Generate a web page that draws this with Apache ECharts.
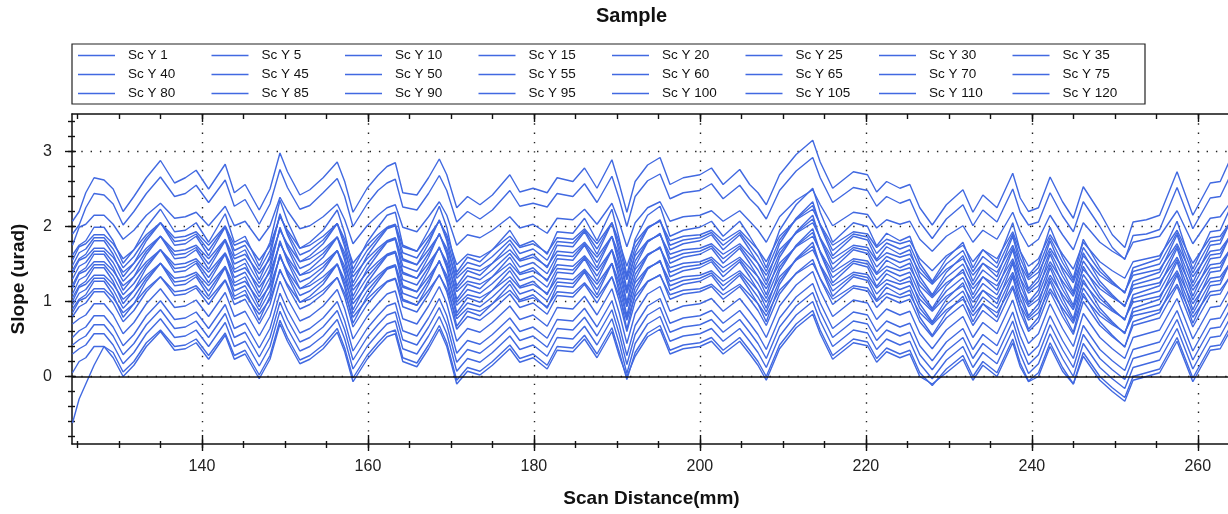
<!DOCTYPE html>
<html>
<head>
<meta charset="utf-8">
<script src="https://cdn.jsdelivr.net/npm/echarts@6/dist/echarts.min.js"></script>
<style>
  html, body { margin: 0; padding: 0; background: #ffffff; }
  #chart { width: 1228px; height: 514px; }
</style>
</head>
<body>
<div id="chart"></div>
<script>
// Scan positions (mm) shared by every profile
const scanX = [124.4, 125.2, 126, 127, 128.2, 129.3, 130.5, 131.8, 133.3, 135,
  136.7, 138, 139.3, 140.8, 142.8, 143.9, 145.2, 146.9, 148.2, 149.4,
  150.3, 151.8, 153, 154.6, 156.3, 157.2, 158.2, 159.9, 161.2, 162.3,
  163.3, 164.2, 165.9, 167.3, 168.6, 169.5, 170.7, 172, 173.5, 175,
  177.1, 178.3, 179.9, 181.6, 182.8, 184.7, 186.1, 187.6, 189.4, 190.3,
  191.2, 192.2, 193.7, 195.2, 196.4, 198, 200, 201.4, 202.8, 204.8,
  206, 207, 208, 209.6, 211.6, 213.6, 214.5, 216, 218.5, 220.2,
  221.3, 222.5, 224.1, 225.3, 226.5, 228, 229.7, 231.7, 232.9, 234.1,
  235.8, 237.7, 238.6, 239.6, 240.8, 242.2, 243.7, 245, 246.2, 248.2,
  249.7, 251.2, 252.2, 253.8, 255.4, 257.5, 259.4, 261.5, 262.7, 264];

// Slope profiles (urad), one per scan line
const scY1 = [2.07, 2.20, 2.45, 2.65, 2.62, 2.50, 2.20, 2.40, 2.65, 2.88,
  2.58, 2.65, 2.75, 2.50, 2.83, 2.45, 2.56, 2.22, 2.50, 2.98,
  2.73, 2.42, 2.49, 2.65, 2.86, 2.60, 2.19, 2.51, 2.68, 2.80,
  2.85, 2.45, 2.42, 2.65, 2.90, 2.69, 2.25, 2.40, 2.29, 2.42,
  2.69, 2.46, 2.51, 2.45, 2.65, 2.60, 2.78, 2.51, 2.89, 2.56,
  2.19, 2.60, 2.82, 2.92, 2.56, 2.65, 2.69, 2.78, 2.56, 2.76,
  2.56, 2.45, 2.29, 2.69, 2.96, 3.15, 2.86, 2.51, 2.73, 2.69,
  2.46, 2.60, 2.51, 2.56, 2.25, 2.02, 2.29, 2.49, 2.19, 2.42,
  2.25, 2.71, 2.38, 2.20, 2.25, 2.66, 2.33, 2.11, 2.53, 2.19,
  1.89, 1.72, 2.06, 2.09, 2.15, 2.73, 2.15, 2.58, 2.60, 2.92];
const scY5 = [1.90, 2.02, 2.25, 2.44, 2.42, 2.30, 2.02, 2.20, 2.44, 2.66,
  2.40, 2.44, 2.55, 2.32, 2.62, 2.27, 2.36, 2.03, 2.30, 2.76,
  2.52, 2.23, 2.28, 2.45, 2.64, 2.40, 2.00, 2.30, 2.48, 2.58,
  2.63, 2.26, 2.22, 2.44, 2.68, 2.48, 2.06, 2.20, 2.10, 2.22,
  2.48, 2.27, 2.31, 2.26, 2.44, 2.40, 2.57, 2.32, 2.67, 2.36,
  2.00, 2.40, 2.61, 2.70, 2.37, 2.45, 2.48, 2.57, 2.37, 2.55,
  2.37, 2.26, 2.10, 2.48, 2.74, 2.92, 2.65, 2.32, 2.52, 2.48,
  2.27, 2.40, 2.31, 2.36, 2.06, 1.84, 2.10, 2.29, 2.01, 2.22,
  2.06, 2.50, 2.19, 2.02, 2.06, 2.45, 2.14, 1.93, 2.33, 2.00,
  1.72, 1.56, 1.88, 1.90, 1.96, 2.52, 1.97, 2.38, 2.40, 2.70];
const scY10 = [1.75, 1.99, 2.03, 2.15, 2.15, 2.03, 1.83, 1.95, 2.15, 2.31,
  2.11, 2.13, 2.19, 2.01, 2.27, 2.01, 2.07, 1.81, 2.01, 2.39,
  2.21, 1.97, 2.01, 2.13, 2.30, 2.09, 1.77, 2.01, 2.15, 2.25,
  2.29, 1.99, 1.93, 2.13, 2.33, 2.15, 1.75, 1.89, 1.85, 1.95,
  2.13, 1.98, 2.03, 1.91, 2.11, 2.09, 2.23, 2.03, 2.31, 2.05,
  1.73, 2.05, 2.25, 2.33, 2.07, 2.13, 2.15, 2.21, 2.07, 2.21,
  2.07, 1.95, 1.79, 2.13, 2.35, 2.49, 2.29, 2.01, 2.19, 2.16,
  1.98, 2.09, 2.03, 2.07, 1.83, 1.67, 1.87, 2.01, 1.79, 1.95,
  1.83, 2.19, 1.93, 1.73, 1.83, 2.15, 1.89, 1.69, 2.05, 1.79,
  1.67, 1.57, 1.79, 1.83, 1.87, 2.21, 1.77, 2.11, 2.13, 2.33];
const scY15 = [1.62, 1.75, 1.81, 1.99, 1.99, 1.81, 1.51, 1.69, 1.99, 2.23,
  1.93, 1.95, 2.05, 1.79, 2.17, 1.79, 1.87, 1.47, 1.79, 2.35,
  2.07, 1.71, 1.79, 1.95, 2.22, 1.91, 1.43, 1.79, 1.99, 2.15,
  2.19, 1.75, 1.67, 1.95, 2.27, 1.99, 1.39, 1.59, 1.53, 1.69,
  1.95, 1.74, 1.81, 1.63, 1.93, 1.91, 2.11, 1.81, 2.23, 1.83,
  1.35, 1.83, 2.15, 2.27, 1.87, 1.95, 1.99, 2.07, 1.87, 2.07,
  1.87, 1.69, 1.45, 1.95, 2.29, 2.51, 2.19, 1.79, 2.05, 2.00,
  1.74, 1.91, 1.81, 1.87, 1.51, 1.27, 1.57, 1.79, 1.45, 1.69,
  1.51, 2.05, 1.67, 1.35, 1.51, 1.99, 1.59, 1.31, 1.83, 1.45,
  1.27, 1.11, 1.45, 1.51, 1.57, 2.07, 1.43, 1.93, 1.95, 2.27];
const scY20 = [1.55, 1.73, 1.77, 1.89, 1.89, 1.77, 1.57, 1.69, 1.89, 2.05,
  1.85, 1.87, 1.93, 1.75, 2.01, 1.75, 1.81, 1.55, 1.75, 2.13,
  1.95, 1.71, 1.75, 1.87, 2.04, 1.83, 1.51, 1.75, 1.89, 1.99,
  2.03, 1.73, 1.67, 1.87, 2.07, 1.89, 1.49, 1.63, 1.59, 1.69,
  1.87, 1.72, 1.77, 1.65, 1.85, 1.83, 1.97, 1.77, 2.05, 1.79,
  1.47, 1.79, 1.99, 2.07, 1.81, 1.87, 1.89, 1.95, 1.81, 1.95,
  1.81, 1.69, 1.53, 1.87, 2.09, 2.23, 2.03, 1.75, 1.93, 1.90,
  1.72, 1.83, 1.77, 1.81, 1.57, 1.41, 1.61, 1.75, 1.53, 1.69,
  1.57, 1.93, 1.67, 1.47, 1.57, 1.89, 1.63, 1.43, 1.79, 1.53,
  1.41, 1.31, 1.53, 1.57, 1.61, 1.95, 1.51, 1.85, 1.87, 2.07];
const scY25 = [1.48, 1.65, 1.70, 1.85, 1.85, 1.70, 1.45, 1.60, 1.85, 2.05,
  1.80, 1.82, 1.90, 1.68, 2.00, 1.68, 1.75, 1.42, 1.68, 2.15,
  1.92, 1.62, 1.68, 1.82, 2.04, 1.78, 1.38, 1.68, 1.85, 1.98,
  2.02, 1.65, 1.58, 1.82, 2.08, 1.85, 1.35, 1.52, 1.47, 1.60,
  1.82, 1.64, 1.70, 1.55, 1.80, 1.78, 1.95, 1.70, 2.05, 1.72,
  1.32, 1.72, 1.98, 2.08, 1.75, 1.82, 1.85, 1.92, 1.75, 1.92,
  1.75, 1.60, 1.40, 1.82, 2.10, 2.28, 2.02, 1.68, 1.90, 1.86,
  1.64, 1.78, 1.70, 1.75, 1.45, 1.25, 1.50, 1.68, 1.40, 1.60,
  1.45, 1.90, 1.58, 1.32, 1.45, 1.85, 1.52, 1.28, 1.72, 1.40,
  1.25, 1.12, 1.40, 1.45, 1.50, 1.92, 1.38, 1.80, 1.82, 2.08];
const scY30 = [1.42, 1.57, 1.63, 1.81, 1.81, 1.63, 1.33, 1.51, 1.81, 2.05,
  1.75, 1.77, 1.87, 1.61, 1.99, 1.61, 1.69, 1.29, 1.61, 2.17,
  1.89, 1.53, 1.61, 1.77, 2.04, 1.73, 1.25, 1.61, 1.81, 1.97,
  2.01, 1.57, 1.49, 1.77, 2.09, 1.81, 1.21, 1.41, 1.35, 1.51,
  1.77, 1.56, 1.63, 1.45, 1.75, 1.73, 1.93, 1.63, 2.05, 1.65,
  1.17, 1.65, 1.97, 2.09, 1.69, 1.77, 1.81, 1.89, 1.69, 1.89,
  1.69, 1.51, 1.27, 1.77, 2.11, 2.33, 2.01, 1.61, 1.87, 1.82,
  1.56, 1.73, 1.63, 1.69, 1.33, 1.09, 1.39, 1.61, 1.27, 1.51,
  1.33, 1.87, 1.49, 1.17, 1.33, 1.81, 1.41, 1.13, 1.65, 1.27,
  1.09, 0.93, 1.27, 1.33, 1.39, 1.89, 1.25, 1.75, 1.77, 2.09];
const scY35 = [1.38, 1.55, 1.59, 1.71, 1.71, 1.59, 1.39, 1.51, 1.71, 1.87,
  1.67, 1.69, 1.75, 1.57, 1.83, 1.57, 1.63, 1.37, 1.57, 1.95,
  1.77, 1.53, 1.57, 1.69, 1.86, 1.65, 1.33, 1.57, 1.71, 1.81,
  1.85, 1.55, 1.49, 1.69, 1.89, 1.71, 1.31, 1.45, 1.41, 1.51,
  1.69, 1.54, 1.59, 1.47, 1.67, 1.65, 1.79, 1.59, 1.87, 1.61,
  1.29, 1.61, 1.81, 1.89, 1.63, 1.69, 1.71, 1.77, 1.63, 1.77,
  1.63, 1.51, 1.35, 1.69, 1.91, 2.05, 1.85, 1.57, 1.75, 1.72,
  1.54, 1.65, 1.59, 1.63, 1.39, 1.23, 1.43, 1.57, 1.35, 1.51,
  1.39, 1.75, 1.49, 1.29, 1.39, 1.71, 1.45, 1.25, 1.61, 1.35,
  1.23, 1.13, 1.35, 1.39, 1.43, 1.77, 1.33, 1.67, 1.69, 1.89];
const scY40 = [1.30, 1.47, 1.52, 1.67, 1.67, 1.52, 1.27, 1.42, 1.67, 1.87,
  1.62, 1.64, 1.72, 1.50, 1.82, 1.50, 1.57, 1.24, 1.50, 1.97,
  1.74, 1.44, 1.50, 1.64, 1.86, 1.60, 1.20, 1.50, 1.67, 1.80,
  1.84, 1.47, 1.40, 1.64, 1.90, 1.67, 1.17, 1.34, 1.29, 1.42,
  1.64, 1.46, 1.52, 1.37, 1.62, 1.60, 1.77, 1.52, 1.87, 1.54,
  1.14, 1.54, 1.80, 1.90, 1.57, 1.64, 1.67, 1.74, 1.57, 1.74,
  1.57, 1.42, 1.22, 1.64, 1.92, 2.10, 1.84, 1.50, 1.72, 1.68,
  1.46, 1.60, 1.52, 1.57, 1.27, 1.07, 1.32, 1.50, 1.22, 1.42,
  1.27, 1.72, 1.40, 1.14, 1.27, 1.67, 1.34, 1.10, 1.54, 1.22,
  1.07, 0.94, 1.22, 1.27, 1.32, 1.74, 1.20, 1.62, 1.64, 1.90];
const scY45 = [1.22, 1.39, 1.45, 1.63, 1.63, 1.45, 1.15, 1.33, 1.63, 1.87,
  1.57, 1.59, 1.69, 1.43, 1.81, 1.43, 1.51, 1.11, 1.43, 1.99,
  1.71, 1.35, 1.43, 1.59, 1.86, 1.55, 1.07, 1.43, 1.63, 1.79,
  1.83, 1.39, 1.31, 1.59, 1.91, 1.63, 1.03, 1.23, 1.17, 1.33,
  1.59, 1.38, 1.45, 1.27, 1.57, 1.55, 1.75, 1.45, 1.87, 1.47,
  0.99, 1.47, 1.79, 1.91, 1.51, 1.59, 1.63, 1.71, 1.51, 1.71,
  1.51, 1.33, 1.09, 1.59, 1.93, 2.15, 1.83, 1.43, 1.69, 1.64,
  1.38, 1.55, 1.45, 1.51, 1.15, 0.91, 1.21, 1.43, 1.09, 1.33,
  1.15, 1.69, 1.31, 0.99, 1.15, 1.63, 1.23, 0.95, 1.47, 1.09,
  0.91, 0.75, 1.09, 1.15, 1.21, 1.71, 1.07, 1.57, 1.59, 1.91];
const scY50 = [1.18, 1.37, 1.41, 1.53, 1.53, 1.41, 1.21, 1.33, 1.53, 1.69,
  1.49, 1.51, 1.57, 1.39, 1.65, 1.39, 1.45, 1.19, 1.39, 1.77,
  1.59, 1.35, 1.39, 1.51, 1.68, 1.47, 1.15, 1.39, 1.53, 1.63,
  1.67, 1.37, 1.31, 1.51, 1.71, 1.53, 1.13, 1.27, 1.23, 1.33,
  1.51, 1.36, 1.41, 1.29, 1.49, 1.47, 1.61, 1.41, 1.69, 1.43,
  1.11, 1.43, 1.63, 1.71, 1.45, 1.51, 1.53, 1.59, 1.45, 1.59,
  1.45, 1.33, 1.17, 1.51, 1.73, 1.87, 1.67, 1.39, 1.57, 1.54,
  1.36, 1.47, 1.41, 1.45, 1.21, 1.05, 1.25, 1.39, 1.17, 1.33,
  1.21, 1.57, 1.31, 1.11, 1.21, 1.53, 1.27, 1.07, 1.43, 1.17,
  1.05, 0.95, 1.17, 1.21, 1.25, 1.59, 1.15, 1.49, 1.51, 1.71];
const scY55 = [1.10, 1.29, 1.34, 1.49, 1.49, 1.34, 1.09, 1.24, 1.49, 1.69,
  1.44, 1.46, 1.54, 1.32, 1.64, 1.32, 1.39, 1.06, 1.32, 1.79,
  1.56, 1.26, 1.32, 1.46, 1.68, 1.42, 1.02, 1.32, 1.49, 1.62,
  1.66, 1.29, 1.22, 1.46, 1.72, 1.49, 0.99, 1.16, 1.11, 1.24,
  1.46, 1.28, 1.34, 1.19, 1.44, 1.42, 1.59, 1.34, 1.69, 1.36,
  0.96, 1.36, 1.62, 1.72, 1.39, 1.46, 1.49, 1.56, 1.39, 1.56,
  1.39, 1.24, 1.04, 1.46, 1.74, 1.92, 1.66, 1.32, 1.54, 1.50,
  1.28, 1.42, 1.34, 1.39, 1.09, 0.89, 1.14, 1.32, 1.04, 1.24,
  1.09, 1.54, 1.22, 0.96, 1.09, 1.49, 1.16, 0.92, 1.36, 1.04,
  0.89, 0.76, 1.04, 1.09, 1.14, 1.56, 1.02, 1.44, 1.46, 1.72];
const scY60 = [1.05, 1.21, 1.27, 1.45, 1.45, 1.27, 0.97, 1.15, 1.45, 1.69,
  1.39, 1.41, 1.51, 1.25, 1.63, 1.25, 1.33, 0.93, 1.25, 1.81,
  1.53, 1.17, 1.25, 1.41, 1.68, 1.37, 0.89, 1.25, 1.45, 1.61,
  1.65, 1.21, 1.13, 1.41, 1.73, 1.45, 0.85, 1.05, 0.99, 1.15,
  1.41, 1.20, 1.27, 1.09, 1.39, 1.37, 1.57, 1.27, 1.69, 1.29,
  0.81, 1.29, 1.61, 1.73, 1.33, 1.41, 1.45, 1.53, 1.33, 1.53,
  1.33, 1.15, 0.91, 1.41, 1.75, 1.97, 1.65, 1.25, 1.51, 1.46,
  1.20, 1.37, 1.27, 1.33, 0.97, 0.73, 1.03, 1.25, 0.91, 1.15,
  0.97, 1.51, 1.13, 0.81, 0.97, 1.45, 1.05, 0.77, 1.29, 0.91,
  0.73, 0.57, 0.91, 0.97, 1.03, 1.53, 0.89, 1.39, 1.41, 1.73];
const scY65 = [1.00, 1.19, 1.23, 1.35, 1.35, 1.23, 1.03, 1.15, 1.35, 1.51,
  1.31, 1.33, 1.39, 1.21, 1.47, 1.21, 1.27, 1.01, 1.21, 1.59,
  1.41, 1.17, 1.21, 1.33, 1.50, 1.29, 0.97, 1.21, 1.35, 1.45,
  1.49, 1.19, 1.13, 1.33, 1.53, 1.35, 0.95, 1.09, 1.05, 1.15,
  1.33, 1.18, 1.23, 1.11, 1.31, 1.29, 1.43, 1.23, 1.51, 1.25,
  0.93, 1.25, 1.45, 1.53, 1.27, 1.33, 1.35, 1.41, 1.27, 1.41,
  1.27, 1.15, 0.99, 1.33, 1.55, 1.69, 1.49, 1.21, 1.39, 1.36,
  1.18, 1.29, 1.23, 1.27, 1.03, 0.87, 1.07, 1.21, 0.99, 1.15,
  1.03, 1.39, 1.13, 0.93, 1.03, 1.35, 1.09, 0.89, 1.25, 0.99,
  0.87, 0.77, 0.99, 1.03, 1.07, 1.41, 0.97, 1.31, 1.33, 1.53];
const scY70 = [0.95, 1.11, 1.16, 1.31, 1.31, 1.16, 0.91, 1.06, 1.31, 1.51,
  1.26, 1.28, 1.36, 1.14, 1.46, 1.14, 1.21, 0.88, 1.14, 1.61,
  1.38, 1.08, 1.14, 1.28, 1.50, 1.24, 0.84, 1.14, 1.31, 1.44,
  1.48, 1.11, 1.04, 1.28, 1.54, 1.31, 0.81, 0.98, 0.93, 1.06,
  1.28, 1.10, 1.16, 1.01, 1.26, 1.24, 1.41, 1.16, 1.51, 1.18,
  0.78, 1.18, 1.44, 1.54, 1.21, 1.28, 1.31, 1.38, 1.21, 1.38,
  1.21, 1.06, 0.86, 1.28, 1.56, 1.74, 1.48, 1.14, 1.36, 1.32,
  1.10, 1.24, 1.16, 1.21, 0.91, 0.71, 0.96, 1.14, 0.86, 1.06,
  0.91, 1.36, 1.04, 0.78, 0.91, 1.31, 0.98, 0.74, 1.18, 0.86,
  0.71, 0.58, 0.86, 0.91, 0.96, 1.38, 0.84, 1.26, 1.28, 1.54];
const scY75 = [0.90, 1.03, 1.09, 1.27, 1.27, 1.09, 0.79, 0.97, 1.27, 1.51,
  1.21, 1.23, 1.33, 1.07, 1.45, 1.07, 1.15, 0.75, 1.07, 1.63,
  1.35, 0.99, 1.07, 1.23, 1.50, 1.19, 0.71, 1.07, 1.27, 1.43,
  1.47, 1.03, 0.95, 1.23, 1.55, 1.27, 0.67, 0.87, 0.81, 0.97,
  1.23, 1.02, 1.09, 0.91, 1.21, 1.19, 1.39, 1.09, 1.51, 1.11,
  0.63, 1.11, 1.43, 1.55, 1.15, 1.23, 1.27, 1.35, 1.15, 1.35,
  1.15, 0.97, 0.73, 1.23, 1.57, 1.79, 1.47, 1.07, 1.33, 1.28,
  1.02, 1.19, 1.09, 1.15, 0.79, 0.55, 0.85, 1.07, 0.73, 0.97,
  0.79, 1.33, 0.95, 0.63, 0.79, 1.27, 0.87, 0.59, 1.11, 0.73,
  0.55, 0.39, 0.73, 0.79, 0.85, 1.35, 0.71, 1.21, 1.23, 1.55];
const scY80 = [0.85, 1.01, 1.05, 1.17, 1.17, 1.05, 0.85, 0.97, 1.17, 1.33,
  1.13, 1.15, 1.21, 1.03, 1.29, 1.03, 1.09, 0.83, 1.03, 1.41,
  1.23, 0.99, 1.03, 1.15, 1.32, 1.11, 0.79, 1.03, 1.17, 1.27,
  1.31, 1.01, 0.95, 1.15, 1.35, 1.17, 0.77, 0.91, 0.87, 0.97,
  1.15, 1.00, 1.05, 0.93, 1.13, 1.11, 1.25, 1.05, 1.33, 1.07,
  0.75, 1.07, 1.27, 1.35, 1.09, 1.15, 1.17, 1.23, 1.09, 1.23,
  1.09, 0.97, 0.81, 1.15, 1.37, 1.51, 1.31, 1.03, 1.21, 1.18,
  1.00, 1.11, 1.05, 1.09, 0.85, 0.69, 0.89, 1.03, 0.81, 0.97,
  0.85, 1.21, 0.95, 0.75, 0.85, 1.17, 0.91, 0.71, 1.07, 0.81,
  0.69, 0.59, 0.81, 0.85, 0.89, 1.23, 0.79, 1.13, 1.15, 1.35];
const scY85 = [0.80, 0.93, 0.98, 1.13, 1.13, 0.98, 0.73, 0.88, 1.13, 1.33,
  1.08, 1.10, 1.18, 0.96, 1.28, 0.96, 1.03, 0.70, 0.96, 1.43,
  1.20, 0.90, 0.96, 1.10, 1.32, 1.06, 0.66, 0.96, 1.13, 1.26,
  1.30, 0.93, 0.86, 1.10, 1.36, 1.13, 0.63, 0.80, 0.75, 0.88,
  1.10, 0.92, 0.98, 0.83, 1.08, 1.06, 1.23, 0.98, 1.33, 1.00,
  0.60, 1.00, 1.26, 1.36, 1.03, 1.10, 1.13, 1.20, 1.03, 1.20,
  1.03, 0.88, 0.68, 1.10, 1.38, 1.56, 1.30, 0.96, 1.18, 1.14,
  0.92, 1.06, 0.98, 1.03, 0.73, 0.53, 0.78, 0.96, 0.68, 0.88,
  0.73, 1.18, 0.86, 0.60, 0.73, 1.13, 0.80, 0.56, 1.00, 0.68,
  0.53, 0.40, 0.68, 0.73, 0.78, 1.20, 0.66, 1.08, 1.10, 1.36];
const scY90 = [0.70, 0.77, 0.82, 0.97, 0.97, 0.82, 0.57, 0.72, 0.97, 1.17,
  0.92, 0.94, 1.02, 0.80, 1.12, 0.80, 0.87, 0.54, 0.80, 1.27,
  1.04, 0.74, 0.80, 0.94, 1.16, 0.90, 0.50, 0.80, 0.97, 1.10,
  1.14, 0.77, 0.70, 0.94, 1.20, 0.97, 0.47, 0.64, 0.59, 0.72,
  0.94, 0.76, 0.82, 0.67, 0.92, 0.90, 1.07, 0.82, 1.17, 0.84,
  0.44, 0.84, 1.10, 1.20, 0.87, 0.94, 0.97, 1.04, 0.87, 1.04,
  0.87, 0.72, 0.52, 0.94, 1.22, 1.40, 1.14, 0.80, 1.02, 0.98,
  0.76, 0.90, 0.82, 0.87, 0.57, 0.37, 0.62, 0.80, 0.52, 0.72,
  0.57, 1.02, 0.70, 0.44, 0.57, 0.97, 0.64, 0.40, 0.84, 0.52,
  0.37, 0.24, 0.52, 0.57, 0.62, 1.04, 0.50, 0.92, 0.94, 1.20];
const scY95 = [0.52, 0.61, 0.66, 0.81, 0.81, 0.66, 0.41, 0.56, 0.81, 1.01,
  0.76, 0.78, 0.86, 0.64, 0.96, 0.64, 0.71, 0.38, 0.64, 1.11,
  0.88, 0.58, 0.64, 0.78, 1.00, 0.74, 0.34, 0.64, 0.81, 0.94,
  0.98, 0.61, 0.54, 0.78, 1.04, 0.81, 0.31, 0.48, 0.43, 0.56,
  0.78, 0.60, 0.66, 0.51, 0.76, 0.74, 0.91, 0.66, 1.01, 0.68,
  0.28, 0.68, 0.94, 1.04, 0.71, 0.78, 0.81, 0.88, 0.71, 0.88,
  0.71, 0.56, 0.36, 0.78, 1.06, 1.24, 0.98, 0.64, 0.86, 0.82,
  0.60, 0.74, 0.66, 0.71, 0.41, 0.21, 0.46, 0.64, 0.36, 0.56,
  0.41, 0.86, 0.54, 0.28, 0.41, 0.81, 0.48, 0.24, 0.68, 0.36,
  0.21, 0.08, 0.36, 0.41, 0.46, 0.88, 0.34, 0.76, 0.78, 1.04];
const scY100 = [0.42, 0.49, 0.54, 0.69, 0.69, 0.54, 0.29, 0.44, 0.69, 0.89,
  0.64, 0.66, 0.74, 0.52, 0.84, 0.52, 0.59, 0.26, 0.52, 0.99,
  0.76, 0.46, 0.52, 0.66, 0.88, 0.62, 0.22, 0.52, 0.69, 0.82,
  0.86, 0.49, 0.42, 0.66, 0.92, 0.69, 0.19, 0.36, 0.31, 0.44,
  0.66, 0.48, 0.54, 0.39, 0.64, 0.62, 0.79, 0.54, 0.89, 0.56,
  0.16, 0.56, 0.82, 0.92, 0.59, 0.66, 0.69, 0.76, 0.59, 0.76,
  0.59, 0.44, 0.24, 0.66, 0.94, 1.12, 0.86, 0.52, 0.74, 0.70,
  0.48, 0.62, 0.54, 0.59, 0.29, 0.09, 0.34, 0.52, 0.24, 0.44,
  0.29, 0.74, 0.42, 0.16, 0.29, 0.69, 0.36, 0.12, 0.56, 0.24,
  0.09, -0.04, 0.24, 0.29, 0.34, 0.76, 0.22, 0.64, 0.66, 0.92];
const scY105 = [0.30, 0.37, 0.42, 0.57, 0.57, 0.42, 0.17, 0.32, 0.57, 0.77,
  0.52, 0.54, 0.62, 0.40, 0.72, 0.40, 0.47, 0.14, 0.40, 0.87,
  0.64, 0.34, 0.40, 0.54, 0.76, 0.50, 0.10, 0.40, 0.57, 0.70,
  0.74, 0.37, 0.30, 0.54, 0.80, 0.57, 0.07, 0.24, 0.19, 0.32,
  0.54, 0.36, 0.42, 0.27, 0.52, 0.50, 0.67, 0.42, 0.77, 0.44,
  0.04, 0.44, 0.70, 0.80, 0.47, 0.54, 0.57, 0.64, 0.47, 0.64,
  0.47, 0.32, 0.12, 0.54, 0.82, 1.00, 0.74, 0.40, 0.62, 0.58,
  0.36, 0.50, 0.42, 0.47, 0.17, -0.03, 0.22, 0.40, 0.12, 0.32,
  0.17, 0.62, 0.30, 0.04, 0.17, 0.57, 0.24, 0.00, 0.44, 0.12,
  -0.03, -0.16, 0.12, 0.17, 0.22, 0.64, 0.10, 0.52, 0.54, 0.80];
const scY110 = [0.05, 0.20, 0.25, 0.40, 0.40, 0.25, 0.00, 0.15, 0.40, 0.60,
  0.35, 0.37, 0.45, 0.23, 0.55, 0.23, 0.30, -0.03, 0.23, 0.70,
  0.47, 0.17, 0.23, 0.37, 0.59, 0.33, -0.07, 0.23, 0.40, 0.53,
  0.57, 0.20, 0.13, 0.37, 0.63, 0.40, -0.10, 0.07, 0.02, 0.15,
  0.37, 0.19, 0.25, 0.10, 0.35, 0.33, 0.50, 0.25, 0.60, 0.27,
  0.00, 0.27, 0.53, 0.63, 0.30, 0.37, 0.40, 0.47, 0.30, 0.47,
  0.30, 0.15, -0.05, 0.37, 0.65, 0.83, 0.57, 0.23, 0.45, 0.41,
  0.19, 0.33, 0.25, 0.30, 0.00, -0.10, 0.05, 0.23, -0.05, 0.15,
  0.00, 0.45, 0.13, -0.07, 0.00, 0.40, 0.07, -0.10, 0.27, -0.05,
  -0.20, -0.33, -0.05, 0.00, 0.05, 0.47, -0.07, 0.35, 0.37, 0.63];
const scY120 = [-0.62, -0.30, -0.10, 0.15, 0.40, 0.32, 0.06, 0.20, 0.45, 0.62,
  0.40, 0.42, 0.50, 0.28, 0.58, 0.28, 0.35, 0.02, 0.28, 0.75,
  0.52, 0.22, 0.28, 0.42, 0.64, 0.38, -0.02, 0.28, 0.45, 0.58,
  0.62, 0.25, 0.18, 0.42, 0.68, 0.45, -0.05, 0.12, 0.07, 0.20,
  0.42, 0.24, 0.30, 0.15, 0.40, 0.38, 0.55, 0.30, 0.65, 0.32,
  -0.04, 0.32, 0.58, 0.68, 0.35, 0.42, 0.45, 0.52, 0.35, 0.52,
  0.35, 0.20, 0.00, 0.42, 0.70, 0.88, 0.62, 0.28, 0.50, 0.46,
  0.24, 0.38, 0.30, 0.35, 0.05, -0.12, 0.10, 0.28, 0.00, 0.20,
  0.05, 0.50, 0.18, -0.06, 0.05, 0.45, 0.12, -0.10, 0.32, 0.00,
  -0.15, -0.28, 0.00, 0.05, 0.10, 0.52, -0.02, 0.40, 0.42, 0.68];

const seriesNames = ['Sc Y 1', 'Sc Y 5', 'Sc Y 10', 'Sc Y 15', 'Sc Y 20', 'Sc Y 25', 'Sc Y 30', 'Sc Y 35',
  'Sc Y 40', 'Sc Y 45', 'Sc Y 50', 'Sc Y 55', 'Sc Y 60', 'Sc Y 65', 'Sc Y 70', 'Sc Y 75',
  'Sc Y 80', 'Sc Y 85', 'Sc Y 90', 'Sc Y 95', 'Sc Y 100', 'Sc Y 105', 'Sc Y 110', 'Sc Y 120'];
const seriesValues = [scY1, scY5, scY10, scY15, scY20, scY25, scY30, scY35,
  scY40, scY45, scY50, scY55, scY60, scY65, scY70, scY75,
  scY80, scY85, scY90, scY95, scY100, scY105, scY110, scY120];

// Axis ticks and labels
const xLabelTicks = [140, 160, 180, 200, 220, 240, 260];
const xMinorTicks = [125, 130, 135, 140, 145, 150, 155, 160, 165, 170, 175, 180, 185, 190,
  195, 200, 205, 210, 215, 220, 225, 230, 235, 240, 245, 250, 255, 260];
const yLabelTicks = [0, 1, 2, 3];
const yMinorTicks = [-0.8, -0.6, -0.4, -0.2, 0, 0.2, 0.4, 0.6, 0.8, 1, 1.2, 1.4, 1.6, 1.8,
  2, 2.2, 2.4, 2.6, 2.8, 3, 3.2, 3.4];

const X_MIN = 124.34, X_MAX = 264, Y_MIN = -0.9, Y_MAX = 3.5;
const FONT = '"Liberation Sans", Arial, Helvetica, sans-serif';
const INK = '#111111';
const TRACE = '#4169E1';
const DOTS = { color: '#222222', width: 1.4, type: [1.4, 7.9] };

function xLayer(position, ticks, inside, length, extra) {
  return Object.assign({
    type: 'value', gridIndex: 0, position: position, min: X_MIN, max: X_MAX,
    axisLine: { show: false, onZero: false },
    axisTick: { show: true, inside: inside, length: length, customValues: ticks,
      lineStyle: { color: INK, width: 1.4 } },
    axisLabel: { show: false },
    splitLine: { show: false }
  }, extra || {});
}
function yLayer(ticks, inside, length, extra) {
  return Object.assign({
    type: 'value', gridIndex: 0, position: 'left', min: Y_MIN, max: Y_MAX,
    axisLine: { show: false, onZero: false },
    axisTick: { show: true, inside: inside, length: length, customValues: ticks,
      lineStyle: { color: INK, width: 1.4 } },
    axisLabel: { show: false },
    splitLine: { show: false }
  }, extra || {});
}

const chart = echarts.init(document.getElementById('chart'), null, { renderer: 'canvas' });

const series = seriesValues.map((vals, i) => ({
  name: seriesNames[i],
  type: 'line',
  xAxisIndex: 0,
  yAxisIndex: 0,
  symbol: 'none',
  showSymbol: false,
  clip: true,
  color: TRACE,
  lineStyle: { width: 1.4, color: TRACE },
  emphasis: { disabled: true },
  data: scanX.map((x, j) => [x, vals[j]])
}));
// solid zero reference line
series[0].markLine = {
  silent: true, symbol: 'none', animation: false,
  label: { show: false },
  lineStyle: { color: INK, type: 'solid', width: 1.5 },
  data: [{ yAxis: 0 }]
};

chart.setOption({
  animation: false,
  backgroundColor: '#ffffff',
  title: {
    text: 'Sample', left: 596, top: 6, padding: 0,
    textStyle: { fontFamily: FONT, fontSize: 20, fontWeight: 'bold', color: INK }
  },
  legend: {
    data: seriesNames,
    left: 72, top: 44, width: 1068,
    orient: 'horizontal',
    icon: 'rect', itemWidth: 37, itemHeight: 1.5, itemGap: 4,
    padding: [4, 3, 3, 6],
    borderColor: '#222222', borderWidth: 1.2,
    selectedMode: false,
    textStyle: { fontFamily: FONT, fontSize: 13.5, color: INK, width: 79.5, lineHeight: 15,
      padding: [0, 0, 0, 8] }
  },
  grid: { left: 72, top: 114, right: -3, bottom: 70, containLabel: false, outerBoundsMode: 'none' },
  xAxis: [
    xLayer('bottom', xMinorTicks, true, 3, {
      axisLine: { show: true, onZero: false, lineStyle: { color: INK, width: 1.5 } },
      axisLabel: { show: true, customValues: xLabelTicks, margin: 15,
        fontFamily: FONT, fontSize: 16, color: '#222222' },
      name: 'Scan Distance(mm)', nameLocation: 'middle', nameGap: 45,
      nameTextStyle: { fontFamily: FONT, fontSize: 19, fontWeight: 'bold', color: INK }
    }),
    xLayer('bottom', xMinorTicks, false, 4),
    xLayer('bottom', xLabelTicks, true, 9, { splitLine: { show: true, lineStyle: DOTS } }),
    xLayer('bottom', xLabelTicks, false, 7),
    xLayer('top', xMinorTicks, true, 5, {
      axisLine: { show: true, onZero: false, lineStyle: { color: INK, width: 1.5 } }
    }),
    xLayer('top', xLabelTicks, true, 8)
  ],
  yAxis: [
    yLayer(yMinorTicks, true, 3, {
      axisLine: { show: true, onZero: false, lineStyle: { color: INK, width: 1.5 } },
      axisLabel: { show: true, customValues: yLabelTicks, margin: 20,
        fontFamily: FONT, fontSize: 16, color: '#222222' },
      name: 'Slope (urad)', nameLocation: 'middle', nameGap: 44, nameRotate: 90,
      nameTextStyle: { fontFamily: FONT, fontSize: 19, fontWeight: 'bold', color: INK }
    }),
    yLayer(yMinorTicks, false, 4),
    yLayer(yLabelTicks, true, 4, { splitLine: { show: true, lineStyle: DOTS } }),
    yLayer(yLabelTicks, false, 7)
  ],
  series: series
});
</script>
</body>
</html>
